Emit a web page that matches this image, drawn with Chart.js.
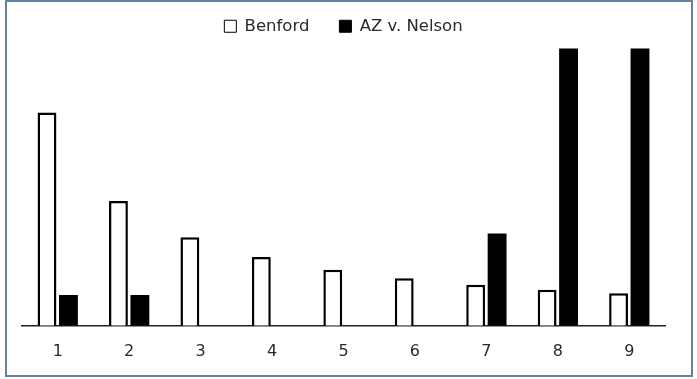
<!DOCTYPE html>
<html>
<head>
<meta charset="utf-8">
<script src="https://cdn.jsdelivr.net/npm/chart.js@4"></script>
<style>
  html, body { margin: 0; padding: 0; background: #fff; }
  #wrap { position: relative; width: 697px; height: 379px; }
  #frame { position: absolute; left: 5px; top: 0px; width: 684px; height: 373px; border: 2px solid #6383a4; box-sizing: content-box; pointer-events: none; }
  canvas { position: absolute; left: 0; top: 0; }
</style>
</head>
<body>
<div id="wrap">
  <canvas id="c" width="697" height="379"></canvas>
  <div id="frame"></div>
</div>
<script>
const categories = ['1', '2', '3', '4', '5', '6', '7', '8', '9'];
const benford = [30.1, 17.6, 12.5, 9.7, 7.9, 6.7, 5.8, 5.1, 4.6];
const azNelson = [4.35, 4.35, 0, 0, 0, 0, 13.04, 39.13, 39.13];
const seriesNames = ['Benford', 'AZ v. Nelson'];

new Chart(document.getElementById('c'), {
  type: 'bar',
  data: {
    labels: categories,
    datasets: [
      { label: seriesNames[0], data: benford, backgroundColor: '#ffffff', borderColor: '#000000', borderWidth: 2.5, barPercentage: 0.88, categoryPercentage: 0.6 },
      { label: seriesNames[1], data: azNelson, backgroundColor: '#000000', borderColor: '#000000', borderWidth: 0, barPercentage: 0.88, categoryPercentage: 0.6 }
    ]
  },
  options: {
    responsive: false,
    animation: false,
    layout: { padding: { left: 22, right: 32, top: -12, bottom: 10 } },
    plugins: {
      tooltip: { enabled: false },
      legend: {
        display: true,
        position: 'top',
        labels: {
          font: { family: 'DejaVu Sans', size: 16.5 },
          color: '#2a2a2a',
          boxWidth: 12,
          boxHeight: 12,
          padding: 30,
          generateLabels: (chart) => chart.data.datasets.map((ds, i) => ({
            text: ds.label,
            fillStyle: ds.backgroundColor,
            strokeStyle: '#000',
            lineWidth: 1,
            fontColor: '#2a2a2a',
            datasetIndex: i
          }))
        }
      }
    },
    scales: {
      x: {
        grid: { display: false },
        border: { display: true, color: '#222', width: 1.5 },
        ticks: { font: { family: 'DejaVu Sans', size: 16 }, color: '#2a2a2a', padding: 8 }
      },
      y: {
        display: false,
        min: 0,
        max: 39.7
      }
    }
  }
});
</script>
</body>
</html>
